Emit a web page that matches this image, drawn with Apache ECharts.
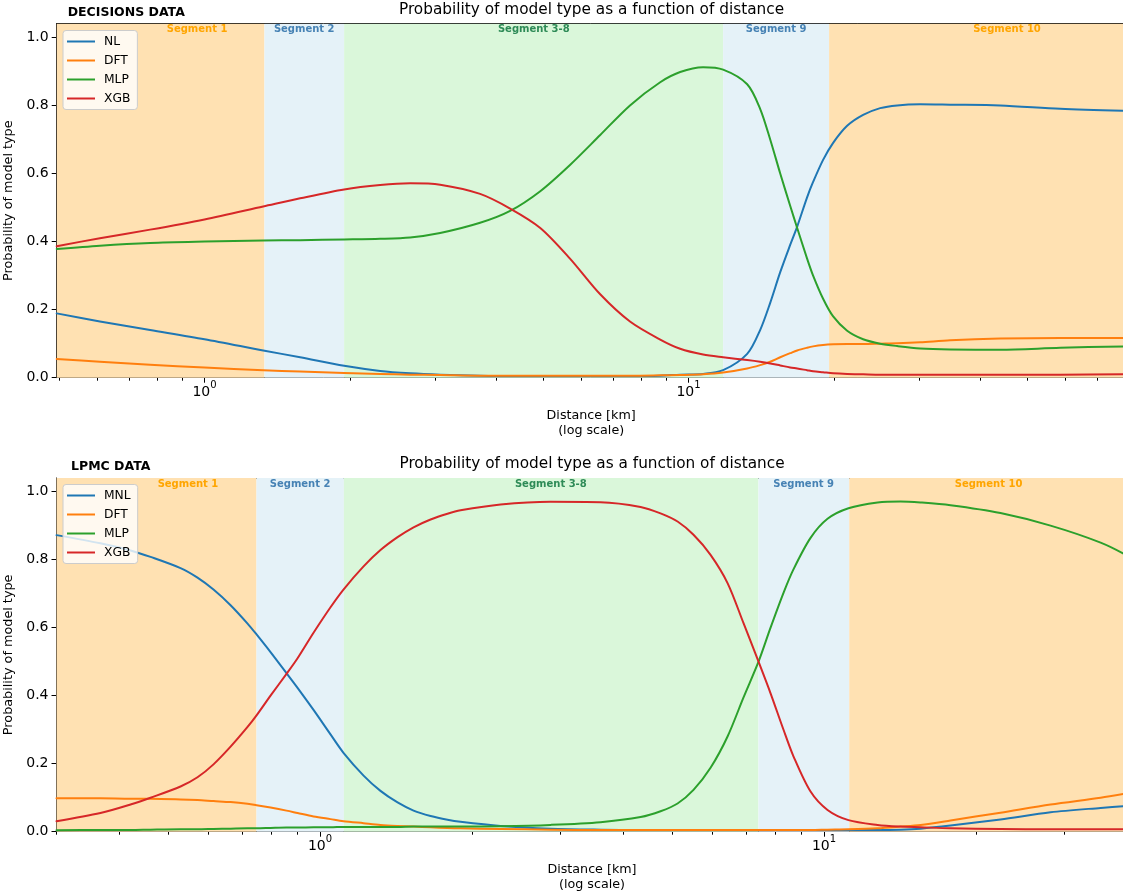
<!DOCTYPE html>
<html><head><meta charset="utf-8">
<script src="https://cdn.jsdelivr.net/npm/echarts@6/dist/echarts.min.js"></script>
<style>html,body{margin:0;padding:0;background:#fff}#c{width:1123px;height:895px}</style>
</head><body><div id="c"></div>
<script>
// ---------- DATA: Decisions (top panel) ----------
const decDist = [0.495,0.608,0.772,1.0,1.322,1.576,1.943,2.306,2.66,3.068,
  3.71,4.28,4.94,5.69,6.57,7.57,8.74,9.61,10.72,11.79,
  13.22,14.06,14.75,15.47,16.22,16.77,17.58,18.09,18.97,19.9,
  21.27,22.95,24.89,26.98,30.1,34.72,44.05,58.6,80];
const decNL = [0.189,0.165,0.14,0.113,0.08,0.06,0.035,0.02,0.013,0.009,
  0.006,0.005,0.005,0.005,0.005,0.005,0.006,0.009,0.011,0.022,
  0.07,0.14,0.22,0.31,0.39,0.444,0.53,0.575,0.64,0.69,
  0.74,0.772,0.792,0.8,0.803,0.802,0.8,0.79,0.784];
const decDFT = [0.055,0.047,0.038,0.03,0.022,0.018,0.014,0.011,0.009,0.008,
  0.006,0.006,0.006,0.006,0.006,0.006,0.007,0.008,0.01,0.015,
  0.027,0.037,0.047,0.06,0.072,0.08,0.088,0.092,0.096,0.098,
  0.099,0.099,0.1,0.101,0.104,0.11,0.115,0.117,0.117];
const decMLP = [0.378,0.388,0.396,0.4,0.403,0.404,0.406,0.408,0.412,0.425,
  0.455,0.49,0.548,0.625,0.713,0.8,0.868,0.898,0.912,0.905,
  0.862,0.79,0.7,0.6,0.505,0.44,0.35,0.3,0.232,0.18,
  0.138,0.113,0.1,0.093,0.086,0.083,0.082,0.088,0.092];
const decXGB = [0.386,0.41,0.435,0.465,0.503,0.527,0.553,0.566,0.571,0.567,
  0.54,0.497,0.44,0.35,0.245,0.165,0.112,0.085,0.068,0.06,
  0.052,0.047,0.042,0.036,0.03,0.027,0.022,0.019,0.016,0.013,
  0.011,0.01,0.009,0.009,0.009,0.009,0.009,0.009,0.01];
const decNames = ['NL','DFT','MLP','XGB'];
const decRange = [0.495, 80];
const decSegEdges = [1.33, 1.943, 11.79, 19.52];
const decSegLabelAt = [0.965, 1.607, 4.79, 15.17, 45.5];
const decMinorTicks = [0.5,0.6,0.7,0.8,0.9,2,3,4,5,6,7,8,9,20,30,40,50,60,70,80];

// ---------- DATA: LPMC (bottom panel) ----------
const lpmcDist = [0.3,0.3667,0.4207,0.461,0.5287,0.5713,0.6146,0.6645,0.7181,0.7482,
  0.7976,0.858,0.9024,0.9707,1.049,1.113,1.22,1.318,1.425,1.533,
  1.657,1.79,1.9,2.281,2.866,3.602,4.325,4.738,5.121,5.508,
  5.954,6.435,6.922,7.413,7.832,8.313,8.70,9.402,10.16,11.18,
  12.77,14.18,15.54,17.82,22.39,28.14,35.38,40];
const lpmcMNL = [0.872,0.848,0.827,0.808,0.775,0.747,0.712,0.666,0.612,0.58,
  0.528,0.466,0.423,0.358,0.286,0.232,0.165,0.12,0.086,0.062,
  0.046,0.035,0.029,0.017,0.009,0.006,0.005,0.005,0.005,0.005,
  0.005,0.005,0.005,0.005,0.005,0.005,0.005,0.005,0.005,0.005,
  0.005,0.006,0.009,0.018,0.036,0.057,0.07,0.076];
const lpmcDFT = [0.098,0.098,0.097,0.097,0.095,0.093,0.09,0.087,0.082,0.078,
  0.071,0.062,0.055,0.045,0.037,0.031,0.025,0.02,0.017,0.015,
  0.013,0.011,0.01,0.008,0.006,0.005,0.005,0.005,0.005,0.005,
  0.005,0.005,0.005,0.005,0.005,0.005,0.005,0.005,0.006,0.007,
  0.01,0.015,0.02,0.033,0.056,0.08,0.1,0.113];
const lpmcMLP = [0.004,0.005,0.005,0.006,0.007,0.007,0.008,0.009,0.01,0.01,
  0.011,0.012,0.012,0.013,0.013,0.014,0.014,0.014,0.014,0.015,
  0.015,0.015,0.015,0.016,0.02,0.028,0.043,0.06,0.083,0.123,
  0.188,0.28,0.395,0.5,0.6,0.703,0.772,0.864,0.92,0.951,
  0.968,0.971,0.968,0.96,0.937,0.9,0.85,0.811];
const lpmcXGB = [0.031,0.055,0.08,0.1,0.133,0.16,0.198,0.25,0.308,0.342,
  0.4,0.464,0.51,0.585,0.66,0.712,0.78,0.828,0.866,0.895,
  0.918,0.935,0.945,0.962,0.97,0.969,0.955,0.936,0.912,0.873,
  0.814,0.731,0.613,0.5,0.407,0.299,0.221,0.118,0.064,0.034,
  0.02,0.015,0.013,0.01,0.008,0.007,0.007,0.007];
const lpmcNames = ['MNL','DFT','MLP','XGB'];
const lpmcRange = [0.3, 40];
const lpmcSegEdges = [0.748, 1.115, 7.41, 11.22];
const lpmcSegLabelAt = [0.547, 0.913, 2.87, 9.11, 21.2];
const lpmcMinorTicks = [0.3,0.4,0.5,0.6,0.7,0.8,0.9,2,3,4,5,6,7,8,9,20,30,40];

// ---------- shared labels / ticks ----------
const segNames = ['Segment 1','Segment 2','Segment 3-8','Segment 9','Segment 10'];
const majorXTicks = [1, 10];
const yTicks = [0, 0.2, 0.4, 0.6, 0.8, 1.0];
const panelTitles = ['DECISIONS DATA', 'LPMC DATA'];
const mainTitle = 'Probability of model type as a function of distance';
const xName = 'Distance [km]\n(log scale)';
const yName = 'Probability of model type';

// ---------- styles / layout ----------
const FONT = 'DejaVu Sans';
const LINE_COLORS = ['#1f77b4', '#ff7f0e', '#2ca02c', '#d62728'];
const SEG_BG = ['#ffe1b2', '#e5f2f8', '#daf7da', '#e5f2f8', '#ffe1b2'];
const SEG_FG = ['#ffa500', '#4682b4', '#2e8b57', '#4682b4', '#ffa500'];
const SEG_LABEL_Y = 1.0226;
const Y_MAX = 1.04;
const grids = [
  { left: 56.7, top: 23.7, width: 1068.9, height: 354, outerBoundsMode: 'none', containLabel: false },
  { left: 56.5, top: 478, width: 1071, height: 353.7, outerBoundsMode: 'none', containLabel: false }
];
const legendPos = [{ left: 63, top: 30.5 }, { left: 63, top: 484.5 }];
const tagPos = [{ left: 67.7, top: 6.4 }, { left: 71, top: 460.4 }];
const titleTop = [2.4, 456.4];
const titleCenterX = [591.5, 592];

const panels = [
  { dist: decDist, vals: [decNL, decDFT, decMLP, decXGB], names: decNames, range: decRange,
    edges: decSegEdges, labelAt: decSegLabelAt, minor: decMinorTicks },
  { dist: lpmcDist, vals: [lpmcMNL, lpmcDFT, lpmcMLP, lpmcXGB], names: lpmcNames, range: lpmcRange,
    edges: lpmcSegEdges, labelAt: lpmcSegLabelAt, minor: lpmcMinorTicks }
];

const axisLineStyle = { color: '#000', width: 1 };
const xAxes = [], yAxes = [], series = [], legends = [], titles = [];

panels.forEach((p, i) => {
  const xBase = xAxes.length;
  xAxes.push({
    type: 'log', logBase: 10, gridIndex: i, min: p.range[0], max: p.range[1], position: 'bottom',
    axisLine: { show: true, onZero: false, lineStyle: axisLineStyle },
    axisTick: { show: true, customValues: majorXTicks, length: 5, lineStyle: { color: '#000', width: 1 } },
    axisLabel: {
      show: true, customValues: majorXTicks, margin: 3,
      formatter: v => '{b|10}{s|' + Math.round(Math.log10(v)) + '}',
      rich: {
        b: { fontSize: 14, fontFamily: FONT, color: '#000', lineHeight: 19, verticalAlign: 'bottom' },
        s: { fontSize: 10, fontFamily: FONT, color: '#000', verticalAlign: 'top' }
      }
    },
    splitLine: { show: false }, minorTick: { show: false }, minorSplitLine: { show: false },
    name: xName, nameLocation: 'middle', nameGap: 30,
    nameTextStyle: { fontSize: 12.7, fontFamily: FONT, color: '#000', lineHeight: 15 }
  });
  xAxes.push({
    type: 'log', logBase: 10, gridIndex: i, min: p.range[0], max: p.range[1], position: 'bottom',
    axisLine: { show: false, onZero: false },
    axisTick: { show: true, customValues: p.minor, length: 3, lineStyle: { color: '#000', width: 1 } },
    axisLabel: { show: false }, splitLine: { show: false }
  });
  xAxes.push({
    type: 'log', logBase: 10, gridIndex: i, min: p.range[0], max: p.range[1], position: 'top',
    axisLine: { show: true, onZero: false, lineStyle: axisLineStyle },
    axisTick: { show: false }, axisLabel: { show: false }, splitLine: { show: false }
  });
  yAxes.push({
    type: 'value', gridIndex: i, min: 0, max: Y_MAX, position: 'left',
    axisLine: { show: true, onZero: false, lineStyle: axisLineStyle },
    axisTick: { show: true, customValues: yTicks, length: 5, lineStyle: { color: '#000', width: 1 } },
    axisLabel: { show: true, customValues: yTicks, formatter: v => v.toFixed(1), fontSize: 14,
      fontFamily: FONT, color: '#000', margin: 8 },
    splitLine: { show: false },
    name: yName, nameLocation: 'middle', nameGap: 36.5,
    nameTextStyle: { fontSize: 12.8, fontFamily: FONT, color: '#000' }
  });

  const bounds = [p.range[0], ...p.edges, p.range[1]];
  p.names.forEach((nm, k) => {
    const s = {
      type: 'line', name: nm, xAxisIndex: xBase, yAxisIndex: i,
      data: p.dist.map((d, j) => [d, p.vals[k][j]]),
      symbol: 'none', showSymbol: false, smooth: 0.3,
      color: LINE_COLORS[k],
      lineStyle: { width: 2, color: LINE_COLORS[k], join: 'round', cap: 'round' },
      z: 3, silent: true
    };
    if (k === 0) {
      s.markArea = {
        silent: true, z: 1,
        itemStyle: { opacity: 1, borderWidth: 0 },
        label: { show: false },
        data: SEG_BG.map((c, m) => [
          { xAxis: bounds[m], itemStyle: { color: c, opacity: 1 } },
          { xAxis: bounds[m + 1] }
        ])
      };
    }
    if (k === 1) {
      s.markPoint = {
        silent: true, symbol: 'rect', symbolSize: 1,
        itemStyle: { color: 'rgba(0,0,0,0)' },
        label: { show: true, position: 'inside', formatter: '{b}', fontSize: 10,
          fontWeight: 'bold', fontFamily: FONT },
        data: segNames.map((n, m) => ({
          name: n, coord: [p.labelAt[m], SEG_LABEL_Y],
          label: { color: SEG_FG[m] }
        }))
      };
    }
    series.push(s);
  });

  legends.push({
    show: true, data: p.names, orient: 'vertical', left: legendPos[i].left, top: legendPos[i].top,
    icon: 'rect', itemWidth: 28, itemHeight: 2, itemGap: 5, padding: [4, 7, 4, 4],
    backgroundColor: 'rgba(255,255,255,0.8)', borderColor: '#cccccc', borderWidth: 1, borderRadius: 3,
    selectedMode: false,
    textStyle: { fontSize: 12.3, fontFamily: FONT, color: '#000', lineHeight: 14, padding: [0, 0, 0, 4] }
  });

  titles.push({
    text: mainTitle, left: titleCenterX[i], top: titleTop[i], textAlign: 'center', padding: 0,
    textStyle: { fontSize: 15.3, fontWeight: 'normal', fontFamily: FONT, color: '#000', lineHeight: 16 }
  });
  titles.push({
    text: panelTitles[i], left: tagPos[i].left, top: tagPos[i].top, padding: 0,
    textStyle: { fontSize: 12.5, fontWeight: 'bold', fontFamily: FONT, color: '#000', lineHeight: 13 }
  });
});

const chart = echarts.init(document.getElementById('c'), null, { renderer: 'canvas', width: 1123, height: 895 });
chart.setOption({
  animation: false,
  backgroundColor: '#fff',
  textStyle: { fontFamily: FONT },
  title: titles,
  legend: legends,
  grid: grids,
  xAxis: xAxes,
  yAxis: yAxes,
  series: series
});
</script>
</body></html>
